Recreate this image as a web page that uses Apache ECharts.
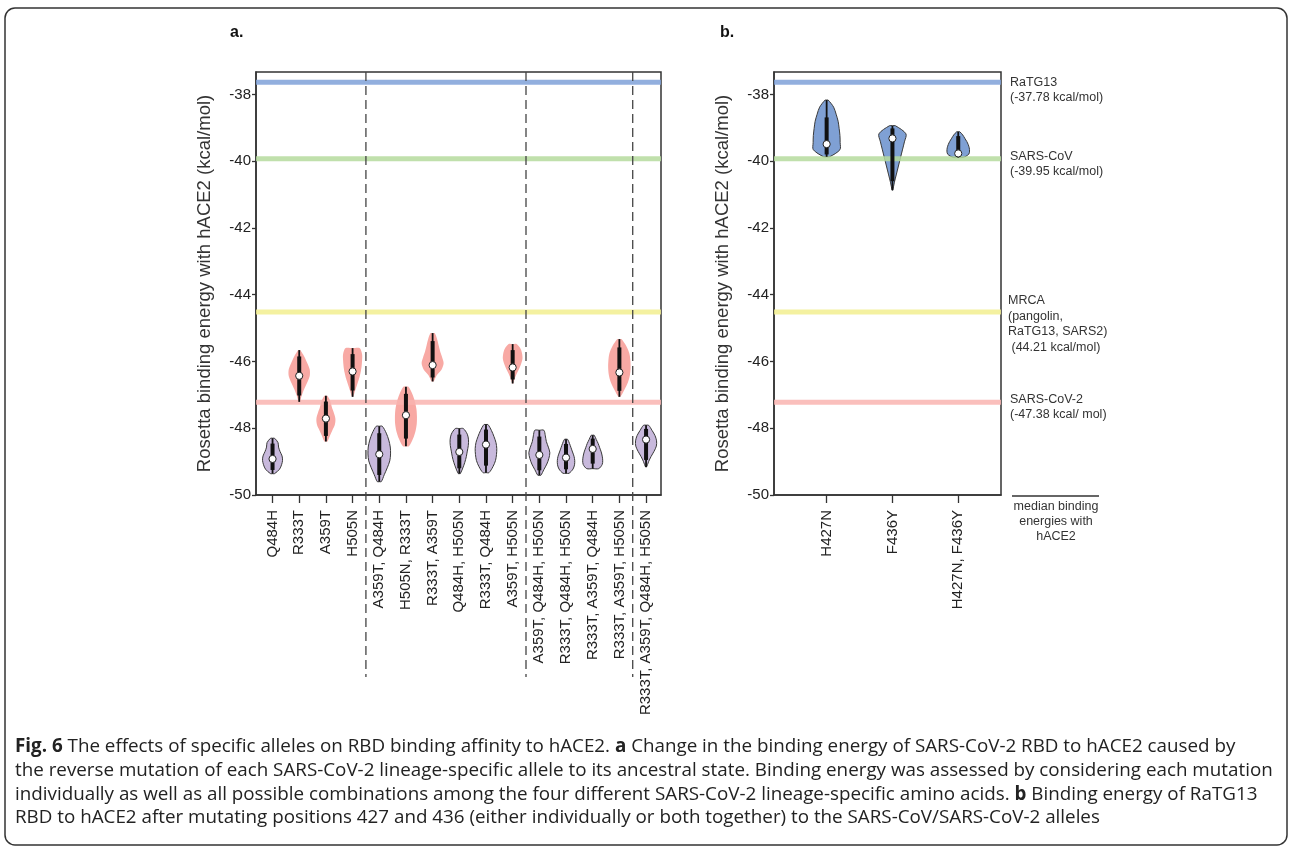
<!DOCTYPE html>
<html><head><meta charset="utf-8">
<script src="https://cdn.jsdelivr.net/npm/echarts@6/dist/echarts.min.js"></script>
<style>html,body{margin:0;padding:0;background:#fff}#c{width:1292px;height:848px}</style>
</head><body><div id="c"></div>
<script>
// ---------------- DATA ----------------
const yTitle = 'Rosetta binding energy with hACE2 (kcal/mol)';
const yTicks = [-50, -48, -46, -44, -42, -40, -38];

const categoriesA = ['Q484H','R333T','A359T','H505N','A359T, Q484H','H505N, R333T','R333T, A359T','Q484H, H505N','R333T, Q484H','A359T, H505N','A359T, Q484H, H505N','R333T, Q484H, H505N','R333T, A359T, Q484H','R333T, A359T, H505N','R333T, A359T, Q484H, H505N'];
const groupA  = ['purple','red','red','red','purple','red','red','purple','purple','red','purple','purple','purple','red','purple'];
const minA    = [-49.36,-47.21,-48.40,-47.06,-49.60,-48.54,-46.60,-49.36,-49.33,-46.66,-49.41,-49.35,-49.21,-47.06,-49.16];
const maxA    = [-48.30,-45.66,-47.03,-45.60,-47.94,-46.76,-45.15,-48.01,-47.89,-45.48,-48.06,-48.33,-48.21,-45.33,-47.91];
const medianA = [-48.92,-46.43,-47.71,-46.30,-48.78,-47.61,-46.11,-48.71,-48.49,-46.18,-48.80,-48.88,-48.62,-46.33,-48.34];
const q1A     = [-49.25,-47.02,-48.23,-46.87,-49.40,-48.31,-46.48,-49.20,-49.12,-46.54,-49.26,-49.23,-49.06,-46.88,-48.95];
const q3A     = [-48.46,-45.85,-47.20,-45.78,-48.15,-46.97,-45.39,-48.19,-48.04,-45.66,-48.25,-48.47,-48.31,-45.58,-48.02];
// density profiles, sampled evenly from min (first) to max (last)
const densityA = [
  [2, 7, 9, 10, 9.5, 7.5, 6, 5.5, 2],
  [0.5, 2.5, 5, 8, 10.5, 10.5, 8, 5, 1],
  [1.5, 4, 6.5, 9, 9.5, 8, 6, 4.5, 1.5],
  [0.5, 2.5, 4.5, 6.5, 8, 9, 9.5, 9.5, 7],
  [2, 5, 8, 10.5, 11.3, 11, 9.5, 7, 3],
  [3, 7, 9.5, 10.8, 11, 10.5, 9, 6.5, 2.5],
  [1, 4, 9, 11, 9.5, 7.5, 6, 4.5, 2],
  [1, 3.5, 5.5, 7, 8, 9, 9.2, 8, 4],
  [3, 7, 9.5, 10.5, 10.8, 10, 8, 5.5, 2],
  [0.5, 2, 4, 6.5, 8.5, 9.8, 9.5, 8, 4],
  [1.5, 4.5, 7.5, 9.5, 10.5, 9, 7, 6, 4.5],
  [3, 7, 8.5, 8.7, 8, 6.5, 5, 3.5, 1.5],
  [6, 9.5, 10, 9.5, 8.5, 7, 5.5, 3.5, 1.5],
  [1, 5, 8.5, 10.5, 11.2, 11, 10, 7, 2],
  [0.5, 2.5, 5, 8, 10.3, 10.5, 9, 6, 2.5]
];
const separatorsA = [3.5, 9.5, 13.5];

const categoriesB = ['H427N','F436Y','H427N, F436Y'];
const groupB  = ['blue','blue','blue'];
const minB    = [-39.87,-40.87,-39.89];
const maxB    = [-38.17,-38.94,-39.12];
const medianB = [-39.49,-39.32,-39.77];
const q1B     = [-39.80,-40.60,-39.86];
const q3B     = [-38.69,-39.02,-39.25];
const densityB = [
  [3, 13.3, 13.5, 13.3, 12.5, 11.5, 9.5, 7, 1.5],
  [0, 2, 4, 6, 8, 10, 12, 13.5, 3],
  [5, 10.5, 11.3, 11, 10, 8.5, 6.5, 4.5, 1.5]
];

const refValues = [-37.64, -39.93, -44.52, -47.22];
const refLabels = ['RaTG13\n(-37.78 kcal/mol)', 'SARS-CoV\n(-39.95 kcal/mol)', 'MRCA\n(pangolin,\nRaTG13, SARS2)\n (44.21 kcal/mol)', 'SARS-CoV-2\n(-47.38 kcal/ mol)'];
const medianNote = 'median binding\nenergies with\nhACE2';

const captionLines = [
  '{b|Fig. 6} The effects of specific alleles on RBD binding affinity to hACE2. {b|a} Change in the binding energy of SARS-CoV-2 RBD to hACE2 caused by',
  'the reverse mutation of each SARS-CoV-2 lineage-specific allele to its ancestral state. Binding energy was assessed by considering each mutation',
  'individually as well as all possible combinations among the four different SARS-CoV-2 lineage-specific amino acids. {b|b} Binding energy of RaTG13',
  'RBD to hACE2 after mutating positions 427 and 436 (either individually or both together) to the SARS-CoV/SARS-CoV-2 alleles'
];

// ---------------- STYLE / LAYOUT ----------------
const FONT = '"Liberation Sans", Arial, Helvetica, sans-serif';
const CAP_FONT = '"Open Sans", sans-serif';
const VIOLIN_STYLE = {
  purple: {fill: '#c8b9dc', stroke: '#3a3a3a'},
  red:    {fill: '#f8a9a4', stroke: null},
  blue:   {fill: '#7fa0d4', stroke: '#3a3a3a'}
};
const REF_COLORS = ['#7fa1d8', '#b5da9d', '#f2ef8f', '#f9b4b0'];
const Y_MIN = -50, Y_MAX = -37.33;

const chart = echarts.init(document.getElementById('c'), null, {renderer: 'canvas', width: 1292, height: 848});

function xAxisCfg(gridIndex, cats, min, max) {
  const idx = cats.map((_, i) => i);
  return {
    type: 'value', gridIndex, min, max,
    axisLine: {show: true, onZero: false, lineStyle: {color: '#333', width: 1.5}},
    axisTick: {show: true, length: 8, customValues: idx, lineStyle: {color: '#333', width: 1.3}},
    axisLabel: {show: true, rotate: 90, margin: 15, customValues: idx,
      formatter: v => cats[Math.round(v)] || '', fontSize: 15, color: '#222', fontFamily: FONT},
    splitLine: {show: false}
  };
}
function yAxisCfg(gridIndex) {
  return {
    type: 'value', gridIndex, min: Y_MIN, max: Y_MAX,
    name: yTitle, nameLocation: 'middle', nameGap: 42, nameRotate: 90,
    nameTextStyle: {fontSize: 18.5, color: '#333', fontFamily: FONT},
    axisLine: {show: true, onZero: false, lineStyle: {color: '#333', width: 1.5}},
    axisTick: {show: true, length: 4, customValues: yTicks, lineStyle: {color: '#333', width: 1.3}},
    axisLabel: {show: true, customValues: yTicks, fontSize: 15, margin: 5, color: '#222', fontFamily: FONT},
    splitLine: {show: false}
  };
}

function makeBody(density, groups, scale) {
  return function (params, api) {
    const i = params.dataIndex;
    const x = api.value(0), lo = api.value(1), hi = api.value(2);
    const prof = density[i], n = prof.length;
    const pts = [], left = [];
    const pb = api.coord([x, lo]), pt = api.coord([x, hi]);
    if (prof[0] > 0.8) pts.push([pb[0], pb[1]]);
    for (let k = 0; k < n; k++) {
      const p = api.coord([x, lo + (hi - lo) * k / (n - 1)]);
      const w = Math.max(prof[k], 0.3) * scale;
      pts.push([p[0] + w, p[1]]);
      left.push([p[0] - w, p[1]]);
    }
    if (prof[n - 1] > 0.8) pts.push([pt[0], pt[1]]);
    left.reverse();
    for (const q of left) pts.push(q);
    const c = VIOLIN_STYLE[groups[i]];
    return {type: 'polygon', shape: {points: pts, smooth: 0.3},
      style: {fill: c.fill, stroke: c.stroke || 'transparent', lineWidth: c.stroke ? 1 : 0}};
  };
}
function violinMarks(params, api) {
  const x = api.value(0);
  const pMin = api.coord([x, api.value(1)]), pMax = api.coord([x, api.value(2)]);
  const pMed = api.coord([x, api.value(3)]), pQ1 = api.coord([x, api.value(4)]), pQ3 = api.coord([x, api.value(5)]);
  return {type: 'group', children: [
    {type: 'line', shape: {x1: pMin[0], y1: pMin[1], x2: pMax[0], y2: pMax[1]}, style: {stroke: '#111', lineWidth: 1.8}},
    {type: 'line', shape: {x1: pQ1[0], y1: pQ1[1], x2: pQ3[0], y2: pQ3[1]}, style: {stroke: '#111', lineWidth: 4}},
    {type: 'circle', shape: {cx: pMed[0], cy: pMed[1], r: 3.6}, style: {fill: '#fff', stroke: '#222', lineWidth: 1}}
  ]};
}
function refLine(params, api) {
  const cs = params.coordSys;
  const y = api.coord([0, api.value(1)])[1];
  return {type: 'line', shape: {x1: cs.x, y1: y, x2: cs.x + cs.width, y2: y},
    style: {stroke: REF_COLORS[params.dataIndex], lineWidth: 5, opacity: 0.85}};
}

function violinData(cats, mn, mx, md, q1, q3) {
  return cats.map((c, i) => [i, mn[i], mx[i], md[i], q1[i], q3[i]]);
}
const dataA = violinData(categoriesA, minA, maxA, medianA, q1A, q3A);
const dataB = violinData(categoriesB, minB, maxB, medianB, q1B, q3B);
const refData = refValues.map(v => [0, v]);

const enc = {x: 0, y: [1, 2, 3, 4, 5]};
chart.setOption({
  animation: false,
  backgroundColor: '#fff',
  grid: [
    {left: 256, top: 72, width: 405, height: 423, show: true, borderColor: '#333', borderWidth: 1.5, backgroundColor: 'transparent'},
    {left: 774, top: 72, width: 227, height: 423, show: true, borderColor: '#333', borderWidth: 1.5, backgroundColor: 'transparent'}
  ],
  xAxis: [xAxisCfg(0, categoriesA, -0.62, 14.56), xAxisCfg(1, categoriesB, -0.8, 2.65)],
  yAxis: [yAxisCfg(0), yAxisCfg(1)],
  series: [
    {type: 'custom', xAxisIndex: 0, yAxisIndex: 0, z: 2, data: dataA, encode: enc, renderItem: makeBody(densityA, groupA, 1)},
    {type: 'custom', xAxisIndex: 0, yAxisIndex: 0, z: 3, data: refData, encode: {x: 0, y: 1}, renderItem: refLine},
    {type: 'custom', xAxisIndex: 0, yAxisIndex: 0, z: 4, data: dataA, encode: enc, renderItem: violinMarks},
    {type: 'custom', xAxisIndex: 1, yAxisIndex: 1, z: 2, data: dataB, encode: enc, renderItem: makeBody(densityB, groupB, 1)},
    {type: 'custom', xAxisIndex: 1, yAxisIndex: 1, z: 3, data: refData, encode: {x: 0, y: 1}, renderItem: refLine},
    {type: 'custom', xAxisIndex: 1, yAxisIndex: 1, z: 4, data: dataB, encode: enc, renderItem: violinMarks}
  ]
});

// ---------------- annotations ----------------
const g = [];
g.push({type: 'rect', shape: {x: 5, y: 8, width: 1282, height: 837, r: 10}, style: {fill: 'transparent', stroke: '#333', lineWidth: 1.5}, silent: true});
const yTopPx = chart.convertToPixel({yAxisIndex: 0}, Y_MAX);
separatorsA.forEach(s => {
  const x = chart.convertToPixel({xAxisIndex: 0}, s);
  g.push({type: 'line', shape: {x1: x, y1: yTopPx, x2: x, y2: 677}, style: {stroke: '#444', lineWidth: 1.3, lineDash: [9, 5]}, z: 10});
});
const annoLayout = [{dx: 1010, dy: -7.3, lh: 15}, {dx: 1010, dy: -9.6, lh: 15}, {dx: 1008, dy: -19, lh: 15.5}, {dx: 1010, dy: -9.7, lh: 15}];
refValues.forEach((v, i) => {
  const y = chart.convertToPixel({yAxisIndex: 1}, v);
  g.push({type: 'text', x: annoLayout[i].dx, y: y + annoLayout[i].dy,
    style: {text: refLabels[i], fontSize: 12.5, lineHeight: annoLayout[i].lh, fontFamily: FONT, fill: '#333', verticalAlign: 'top', align: 'left'}});
});
g.push({type: 'line', shape: {x1: 1012, y1: 496, x2: 1099, y2: 496}, style: {stroke: '#333', lineWidth: 1.5}});
g.push({type: 'text', x: 1056, y: 499, style: {text: medianNote, fontSize: 12.5, lineHeight: 15, fontFamily: FONT, fill: '#333', align: 'center', verticalAlign: 'top'}});
g.push({type: 'text', x: 230, y: 33, style: {text: 'a.', fontSize: 16, fontWeight: 'bold', fontFamily: FONT, fill: '#111', verticalAlign: 'middle'}});
g.push({type: 'text', x: 720, y: 33, style: {text: 'b.', fontSize: 16, fontWeight: 'bold', fontFamily: FONT, fill: '#111', verticalAlign: 'middle'}});

// caption: size chosen so the longest line spans the caption width
const ctx = document.createElement('canvas').getContext('2d');
ctx.font = '16px "Open Sans"';
const w2 = ctx.measureText(captionLines[1]).width;
const capSize = 16 * 1258 / w2;
const capY = [747, 771, 795, 818];
captionLines.forEach((t, i) => {
  g.push({type: 'text', x: 15, y: capY[i], style: {text: t, fontSize: capSize, fontFamily: CAP_FONT, fill: '#222', verticalAlign: 'middle',
    rich: {b: {fontWeight: 'bold', fontSize: capSize, fontFamily: CAP_FONT, fill: '#222'}}}});
});
chart.setOption({graphic: g});
</script>
</body></html>
